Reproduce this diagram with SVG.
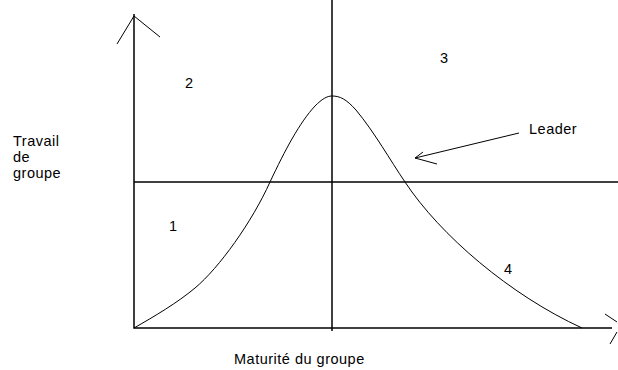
<svg xmlns="http://www.w3.org/2000/svg" width="618" height="370" viewBox="0 0 618 370">
<style>
.ax{stroke:#000;stroke-width:1.5;fill:none}
.cv{stroke:#000;stroke-width:1;fill:none}
.t{font-family:"Liberation Sans",Arial,sans-serif;font-size:14.5px;letter-spacing:0.5px;fill:#000}
</style>
<rect width="618" height="370" fill="#fff"/>
<g id="connectors">
<path class="ax" d="M134,14 V328 H612"/>
<path class="cv" d="M117,44 L134,16 L160,37"/>
<path class="cv" d="M605,314 L617,322 M610,344 L617,332"/>
<path class="ax" d="M332,0 V331"/>
<path class="ax" d="M134,182 H618"/>
<path class="cv" d="M134,328 C155,316 177,303 195,288 C219,268 252,222 270,182 C285,150 300,122 315,106 C322,99 327,96 332,96 C340,96 346,99 356,110 C375,133 390,160 405,182 C440,235 510,295 582,328"/>
<path class="cv" d="M519,133 L415,158 M423,152 L415,158 L437,164"/>
</g>
<g id="labels">
<text class="t" x="185" y="88">2</text>
<text class="t" x="440" y="63">3</text>
<text class="t" x="169" y="231">1</text>
<text class="t" x="504" y="274">4</text>
<text class="t" x="529" y="134">Leader</text>
<text class="t" x="13" y="146">Travail</text>
<text class="t" x="13" y="162">de</text>
<text class="t" x="13" y="178">groupe</text>
<text class="t" x="234" y="364">Maturité du groupe</text>
</g>
</svg>
